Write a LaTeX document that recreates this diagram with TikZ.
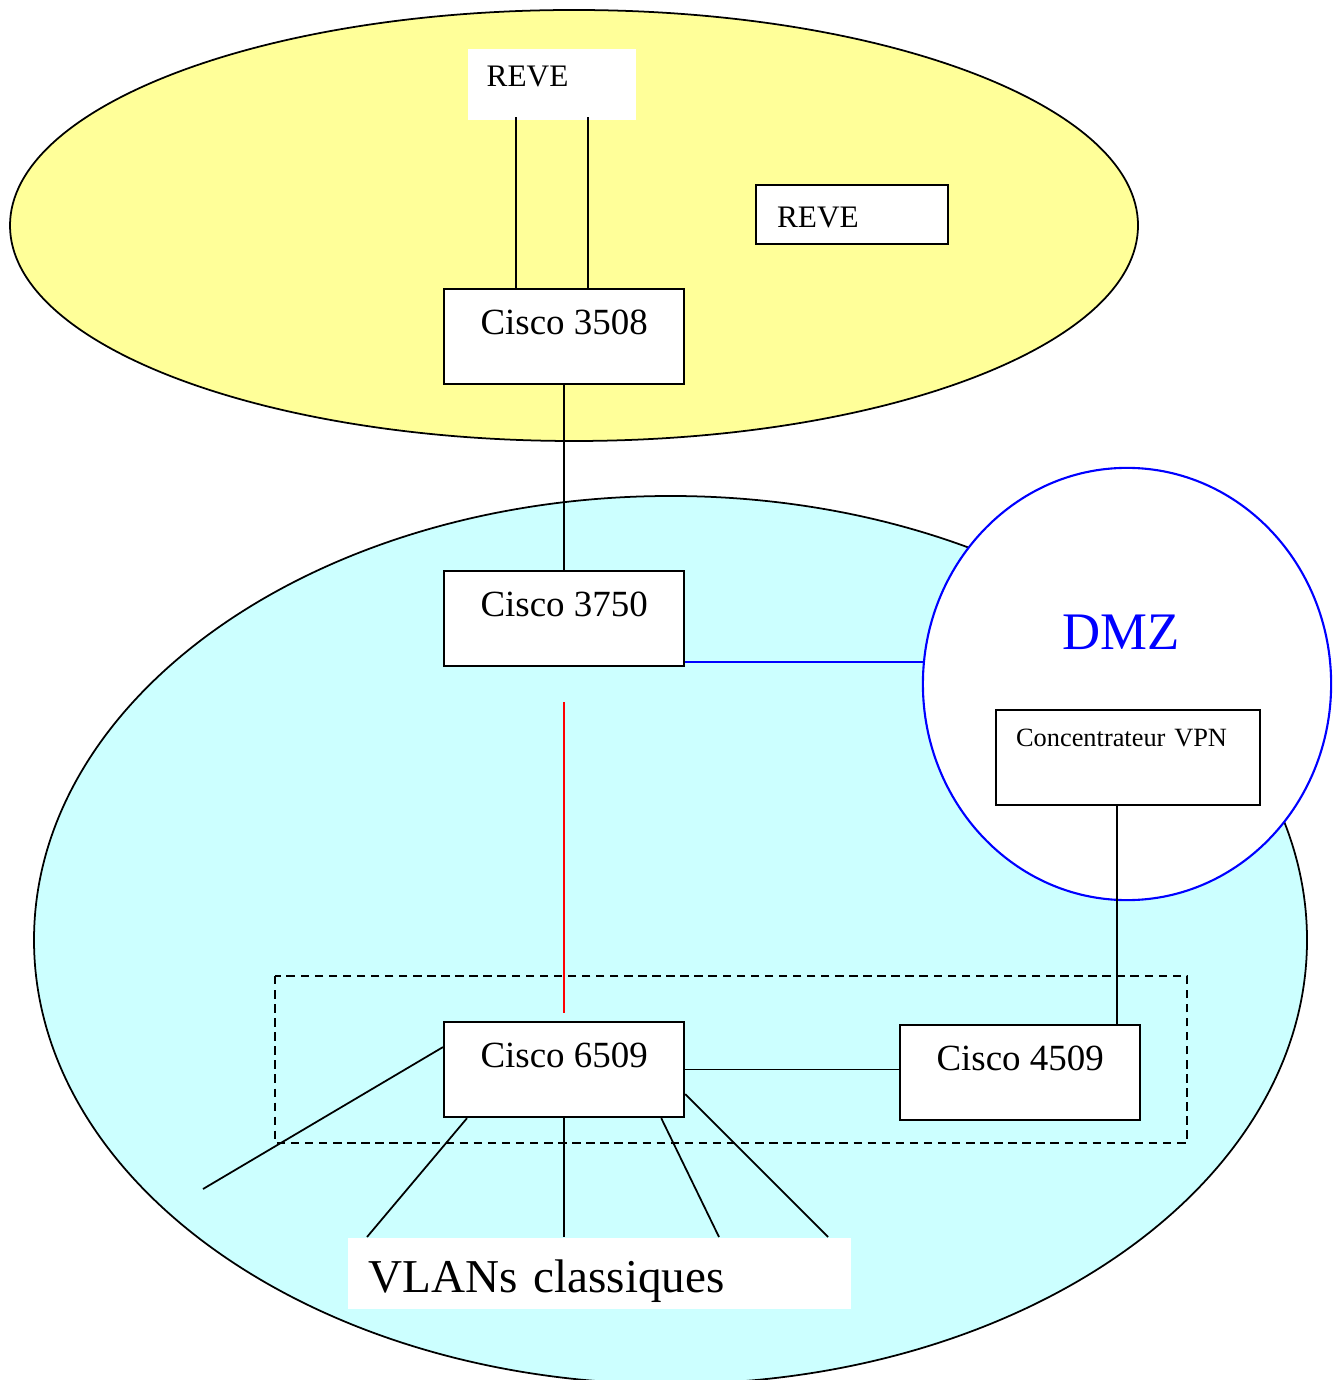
\documentclass[tikz,border=0pt]{standalone}
\usepackage{fontspec}
\setmainfont{Liberation Serif}
\usepackage{tikz}
\usetikzlibrary{arrows,positioning,shapes.geometric}
\definecolor{zoneyellow}{RGB}{255,255,153}
\definecolor{zonecyan}{RGB}{204,255,255}

\begin{document}
\begin{tikzpicture}[x=0.01cm,y=-0.01cm]
\tikzstyle{cisco}=[rectangle,draw,fill=white,line width=0.6pt,inner sep=0pt,anchor=north west,
  minimum width=2.40cm,text height=0.45cm,text depth=0.50cm,font=\fontsize{10.5}{12}\selectfont]
\tikzstyle{tag}=[rectangle,fill=white,inner ysep=0pt,anchor=north west,align=left]
\tikzstyle{link}=[line width=0.5pt]
\useasboundingbox (0,0) rectangle (1339,1380);
% zones
\draw[fill=zoneyellow,line width=0.5pt] (574,225.5) ellipse [x radius=564,y radius=215.5];
\draw[fill=zonecyan,line width=0.5pt] (670.5,940) ellipse [x radius=636.5,y radius=444];
\node[ellipse,draw=blue,fill=white,line width=0.6pt,inner sep=0pt,minimum width=4.08cm,minimum height=4.32cm] (dmz) at (1127,684) {};
\node[text=blue,font=\fontsize{15}{18}\selectfont,inner sep=0pt] (dmzlabel) at (1121,632) {DMZ};
\draw[dash pattern=on 2.4pt off 1.6pt,line width=0.5pt] (275,976) rectangle (1187,1143);
% equipements
\node[tag,fill=white,text width=1.30cm,inner xsep=0.19cm,text height=0.38cm,text depth=0.33cm,font=\fontsize{8.9}{10}\selectfont] (reveA) at (467,48) {REVE};
\node[tag,draw,line width=0.6pt,text width=1.50cm,inner xsep=0.21cm,text height=0.42cm,text depth=0.17cm,font=\fontsize{8.9}{10}\selectfont] (reveB) at (755,184) {REVE};
\node[cisco] (c3508) at (443,288) {Cisco 3508};
\node[cisco] (c3750) at (443,570) {Cisco 3750};
\node[cisco] (c6509) at (443,1021) {Cisco 6509};
\node[cisco] (c4509) at (899,1024) {Cisco 4509};
\node[tag,draw,line width=0.6pt,text width=2.24cm,inner xsep=0.20cm,text height=0.36cm,text depth=0.59cm,font=\fontsize{7.5}{9}\selectfont] (vpn) at (995,709) {Concentrateur VPN};
\node[tag,text width=4.61cm,inner xsep=0.21cm,text height=0.55cm,text depth=0.16cm,font=\fontsize{13.4}{16}\selectfont] (vlans) at (347,1237) {VLANs classiques};
% liaisons
\coordinate (v1) at (203,1189);
\coordinate (v2) at (367,1237);
\coordinate (v4) at (719,1237);
\coordinate (v5) at (828,1237);
\draw[link] ([xshift=-0.36cm,yshift=0.03cm]reveA.south) -- ([xshift=-0.36cm]reveA.south |- c3508.north);
\draw[link] ([xshift=0.36cm,yshift=0.03cm]reveA.south) -- ([xshift=0.36cm]reveA.south |- c3508.north);
\draw[link] (c3508.south) -- (c3750.north);
\draw[link,blue] ([yshift=0.05cm]c3750.south east) -- ([yshift=0.05cm,xshift=0.01cm]c3750.south east -| dmz.west);
\draw[link,red] ([yshift=-0.35cm]c3750.south) -- ([yshift=0.08cm]c6509.north);
\draw[link] ([xshift=-0.11cm]vpn.south) -- ([xshift=-0.11cm]vpn.south |- c4509.north);
\draw[link] (c6509.east) -- (c6509.east -| c4509.west);
\draw[link] ([yshift=0.225cm]c6509.west) -- (v1);
\draw[link] ([xshift=0.24cm]c6509.south west) -- (v2);
\draw[link] (c6509.south) -- (vlans.north -| c6509.south);
\draw[link] ([xshift=-0.24cm]c6509.south east) -- (v4);
\draw[link] ([yshift=-0.245cm]c6509.east) -- (v5);
\end{tikzpicture}
\end{document}
